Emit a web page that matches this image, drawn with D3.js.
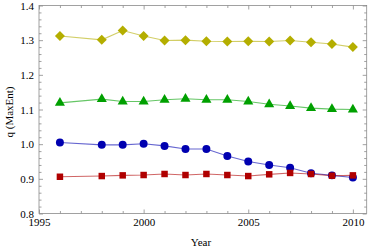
<!DOCTYPE html>
<html>
<head>
<meta charset="utf-8">
<script src="https://cdn.jsdelivr.net/npm/d3@7"></script>
<style>
  body { margin: 0; background: #fff; }
  svg text { font-family: "Liberation Serif", "DejaVu Serif", serif; }
</style>
</head>
<body>
<svg id="chart"></svg>
<script>
const years = [1996, 1998, 1999, 2000, 2001, 2002, 2003, 2004, 2005, 2006, 2007, 2008, 2009, 2010];
const yellowVals = [1.312, 1.301, 1.328, 1.312, 1.299, 1.300, 1.297, 1.296, 1.297, 1.296, 1.299, 1.294, 1.289, 1.280];
const greenVals = [1.119, 1.130, 1.123, 1.123, 1.128, 1.131, 1.128, 1.128, 1.123, 1.115, 1.110, 1.104, 1.101, 1.100];
const blueVals = [1.005, 0.998, 0.998, 1.001, 0.995, 0.986, 0.986, 0.966, 0.950, 0.940, 0.932, 0.916, 0.910, 0.904];
const redVals = [0.906, 0.908, 0.910, 0.911, 0.914, 0.911, 0.914, 0.911, 0.908, 0.913, 0.917, 0.914, 0.909, 0.910];
const xTicks = [1995, 2000, 2005, 2010];
const yTicks = [0.8, 0.9, 1.0, 1.1, 1.2, 1.3, 1.4];

const width = 374, height = 250;
const frameL = 39, frameR = 366.7, frameT = 5.5, frameB = 213.5;

const svg = d3.select("#chart")
    .attr("width", width)
    .attr("height", height);

const x = d3.scaleLinear().domain([1995, 2010.66]).range([frameL, frameR]);
const y = d3.scaleLinear().domain([0.8, 1.4]).range([frameB, frameT]);

const minorX = d3.range(1995, 2011, 1).filter(v => v % 5 !== 0);
const minorY = d3.range(0, 31).map(i => +(0.8 + i * 0.02).toFixed(2))
    .filter(v => Math.abs(Math.round(v * 10) - v * 10) > 1e-6);

const frameColor = "#8a8a8a";

function styleAxis(g) {
  g.select(".domain").remove();
  g.selectAll(".tick line").attr("stroke", frameColor).attr("stroke-width", 0.8);
  g.selectAll(".tick text").attr("fill", "#000").attr("font-size", 11)
      .attr("font-family", "Liberation Serif, serif");
}

// bottom
svg.append("g").attr("transform", `translate(0,${frameB})`)
    .call(d3.axisBottom(x).tickValues(xTicks).tickFormat(d3.format("d")).tickSize(-4).tickPadding(4.5))
    .call(styleAxis);
svg.append("g").attr("transform", `translate(0,${frameB})`)
    .call(d3.axisBottom(x).tickValues(minorX).tickFormat("").tickSize(-2.5))
    .call(styleAxis);
// top
svg.append("g").attr("transform", `translate(0,${frameT})`)
    .call(d3.axisTop(x).tickValues(xTicks).tickFormat("").tickSize(-4))
    .call(styleAxis);
svg.append("g").attr("transform", `translate(0,${frameT})`)
    .call(d3.axisTop(x).tickValues(minorX).tickFormat("").tickSize(-2.5))
    .call(styleAxis);
// left
svg.append("g").attr("transform", `translate(${frameL},0)`)
    .call(d3.axisLeft(y).tickValues(yTicks).tickFormat(d3.format(".1f")).tickSize(-4).tickPadding(5))
    .call(styleAxis);
svg.append("g").attr("transform", `translate(${frameL},0)`)
    .call(d3.axisLeft(y).tickValues(minorY).tickFormat("").tickSize(-2.5))
    .call(styleAxis);
// right
svg.append("g").attr("transform", `translate(${frameR},0)`)
    .call(d3.axisRight(y).tickValues(yTicks).tickFormat("").tickSize(-4))
    .call(styleAxis);
svg.append("g").attr("transform", `translate(${frameR},0)`)
    .call(d3.axisRight(y).tickValues(minorY).tickFormat("").tickSize(-2.5))
    .call(styleAxis);

svg.append("rect")
    .attr("x", frameL).attr("y", frameT)
    .attr("width", frameR - frameL).attr("height", frameB - frameT)
    .attr("fill", "none").attr("stroke", frameColor).attr("stroke-width", 0.8);

const series = [
  {vals: yellowVals, color: "#b4ae00", symbol: d3.symbolDiamond2, size: 64},
  {vals: greenVals, color: "#00a000", symbol: d3.symbolTriangle, size: 44},
  {vals: blueVals, color: "#0000b0", symbol: d3.symbolCircle, size: 50},
  {vals: redVals, color: "#b00000", symbol: d3.symbolSquare, size: 42},
];

const line = d3.line().x((d, i) => x(years[i])).y(d => y(d));

series.forEach(s => {
  svg.append("path")
      .attr("d", line(s.vals))
      .attr("fill", "none")
      .attr("stroke", s.color)
      .attr("stroke-opacity", 0.6)
      .attr("stroke-width", 1.1);
  svg.append("g").selectAll("path")
    .data(s.vals)
    .join("path")
      .attr("transform", (d, i) => `translate(${x(years[i])},${y(d)})`)
      .attr("d", d3.symbol().type(s.symbol).size(s.size))
      .attr("fill", s.color);
});

svg.append("text")
    .attr("x", 201).attr("y", 246)
    .attr("text-anchor", "middle")
    .attr("font-size", 11)
    .text("Year");

svg.append("text")
    .attr("transform", "translate(13,112) rotate(-90)")
    .attr("text-anchor", "middle")
    .attr("font-size", 11)
    .text("q (MaxEnt)");
</script>
</body>
</html>
